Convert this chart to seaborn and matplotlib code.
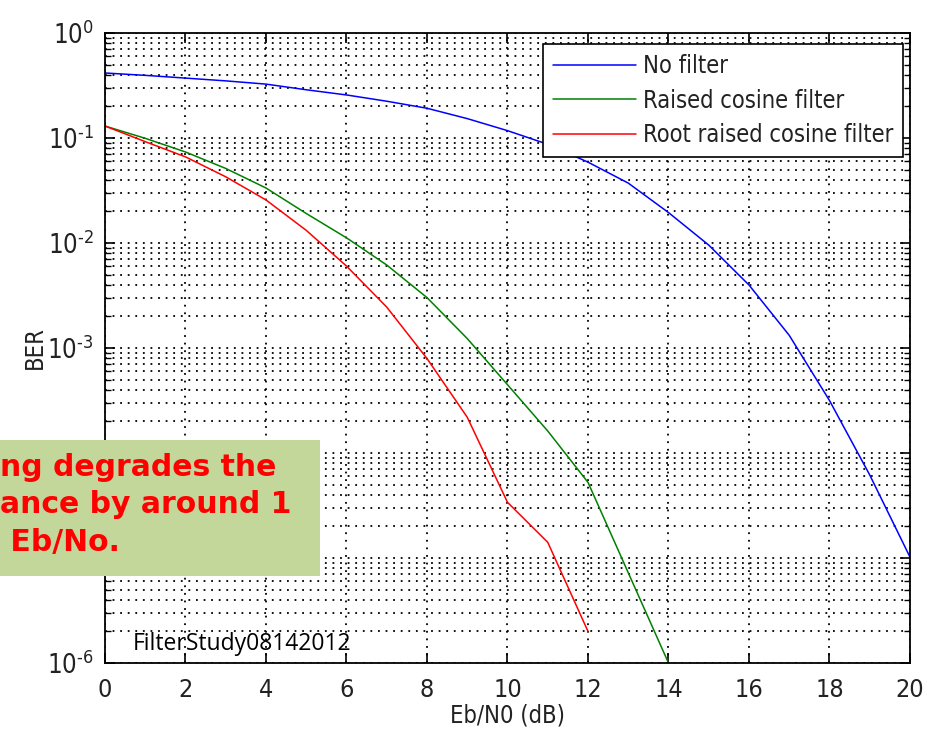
import numpy as np
import pandas as pd
import matplotlib
matplotlib.use("Agg")
import matplotlib.pyplot as plt
from matplotlib.patches import Rectangle
from matplotlib.ticker import FixedLocator, FixedFormatter, NullFormatter
from matplotlib import font_manager as fm
import seaborn as sns

# ---------------- data ----------------
ebn0_no_filter = list(range(0, 21))
ber_no_filter = [0.416, 0.395, 0.372, 0.350, 0.326, 0.288, 0.257, 0.224, 0.192,
                 0.153, 0.1175, 0.0871, 0.0589, 0.0372, 0.0195, 0.00955,
                 0.00398, 0.00132, 3.16e-4, 6.17e-5, 1.02e-5]

ebn0_rc = list(range(0, 15))
ber_rc = [0.130, 0.0993, 0.0736, 0.0513, 0.0334, 0.0191, 0.0112, 0.00617,
          0.00302, 0.00123, 4.47e-4, 1.62e-4, 5.25e-5, 7.24e-6, 1.0e-6]

ebn0_rrc = list(range(0, 13))
ber_rrc = [0.130, 0.0923, 0.0661, 0.0427, 0.0257, 0.0132, 0.00603, 0.00245,
           7.94e-4, 2.19e-4, 3.39e-5, 1.41e-5, 2.0e-6]

series_names = ["No filter", "Raised cosine filter", "Root raised cosine filter"]
series_colors = ["#0000FF", "#008000", "#FF0000"]

x_ticks = [0, 2, 4, 6, 8, 10, 12, 14, 16, 18, 20]
y_ticks = [1e0, 1e-1, 1e-2, 1e-3, 1e-4, 1e-5, 1e-6]
y_tick_labels = [r"$10^{0}$", r"$10^{\text{-}1}$", r"$10^{\text{-}2}$", r"$10^{\text{-}3}$",
                 r"$10^{\text{-}4}$", r"$10^{\text{-}5}$", r"$10^{\text{-}6}$"]

x_label = "Eb/N0 (dB)"
y_label = "BER"
note_lines = ["ng degrades the", "ance by around 1", " Eb/No."]
watermark = "FilterStudy08142012"

# ---------------- build table ----------------
df = pd.concat([
    pd.DataFrame({"EbN0": ebn0_no_filter, "BER": ber_no_filter, "Series": series_names[0]}),
    pd.DataFrame({"EbN0": ebn0_rc, "BER": ber_rc, "Series": series_names[1]}),
    pd.DataFrame({"EbN0": ebn0_rrc, "BER": ber_rrc, "Series": series_names[2]}),
], ignore_index=True)

sns.set_theme(style="white")
names = {f.name for f in fm.fontManager.ttflist}
cond = [f for f in fm.fontManager.ttflist if f.name == "DejaVu Sans" and "ondensed" in f.fname]
if "Liberation Sans Narrow" in names:
    base_family = ["Liberation Sans Narrow", "DejaVu Sans"]
    stretch = "normal"
    mt = "Liberation Sans Narrow"
elif cond:
    base_family = ["DejaVu Sans"]
    stretch = "condensed"
    mt = "DejaVu Sans:stretch=condensed"
else:
    base_family = ["Liberation Sans", "DejaVu Sans"]
    stretch = "normal"
    mt = "Liberation Sans"
plt.rcParams["font.family"] = base_family
plt.rcParams["font.stretch"] = stretch
plt.rcParams["mathtext.fontset"] = "custom"
plt.rcParams["mathtext.rm"] = mt
plt.rcParams["mathtext.it"] = mt
plt.rcParams["mathtext.bf"] = mt
plt.rcParams["mathtext.sf"] = mt

W, H = 928, 731
fig = plt.figure(figsize=(W / 100, H / 100), dpi=100)
L, R, T, B = 105, 910, 33, 663
ax = fig.add_axes([L / W, 1 - B / H, (R - L) / W, (B - T) / H])

sns.lineplot(data=df, x="EbN0", y="BER", hue="Series", hue_order=series_names,
             palette=series_colors, ax=ax, linewidth=1.1, legend=True, sort=False,
             estimator=None)

ax.set_yscale("log")
ax.set_xlim(0, 20)
ax.set_ylim(1e-6, 1e0)

ax.xaxis.set_major_locator(FixedLocator(x_ticks))
ax.set_xticklabels([str(v) for v in x_ticks])
ax.yaxis.set_major_locator(FixedLocator(y_ticks))
ax.yaxis.set_major_formatter(FixedFormatter(y_tick_labels))
minor = [m * 10.0 ** e for e in range(-6, 0) for m in range(2, 10)]
ax.yaxis.set_minor_locator(FixedLocator(minor))
ax.yaxis.set_minor_formatter(NullFormatter())

dot = (0, (1, 3.2))
ax.grid(True, which="major", axis="both", color="black", linestyle=dot, linewidth=1.3)
ax.grid(True, which="minor", axis="y", color="black", linestyle=dot, linewidth=1.3)
ax.set_axisbelow(True)

for s in ax.spines.values():
    s.set_color("black")
    s.set_linewidth(1.3)
    s.set_visible(True)

ax.tick_params(which="major", direction="in", length=7, width=1.2, color="black",
               top=True, right=True, bottom=True, left=True,
               labelsize=18, labelcolor="#222222")
ax.tick_params(axis="x", which="major", pad=11)
ax.tick_params(axis="y", which="major", pad=8, labelsize=18.5)
ax.tick_params(which="minor", direction="in", length=4, width=1.0, color="black",
               left=True, right=True)

ax.set_xlabel(x_label, fontsize=17, color="#222222", labelpad=1)
ax.set_ylabel(y_label, fontsize=17, color="#222222", labelpad=0)

leg = ax.legend(loc="upper right", frameon=True,
                fontsize=17, handlelength=3.5, handletextpad=0.3,
                borderpad=0.42, labelspacing=0.45, borderaxespad=0.0, fancybox=False)
leg.set_bbox_to_anchor(((903 - L) / (R - L), (B - 44) / (B - T)), transform=ax.transAxes)
fr = leg.get_frame()
fr.set_edgecolor("black")
fr.set_linewidth(1.2)
fr.set_alpha(1.0)
for t in leg.get_texts():
    t.set_color("#222222")

# green note box (figure level, over the axes)
fig.add_artist(Rectangle((0, 1 - 576 / H), 320 / W, 136 / H, transform=fig.transFigure,
                         facecolor="#C4D79B", edgecolor="none", zorder=5))
baselines = [476, 513, 551]
for line, yb in zip(note_lines, baselines):
    fig.text(0 / W, 1 - yb / H, line, fontsize=21.5, fontweight="bold", color="#FF0000",
             family=["DejaVu Sans"], stretch="normal",
             ha="left", va="baseline", zorder=6)

fig.text(133 / W, 1 - 650 / H, watermark, fontsize=16.5, color="black",
         family=["Open Sans", "DejaVu Sans"], stretch="normal",
         ha="left", va="baseline", zorder=6)

fig.savefig("out.png", dpi=100)
